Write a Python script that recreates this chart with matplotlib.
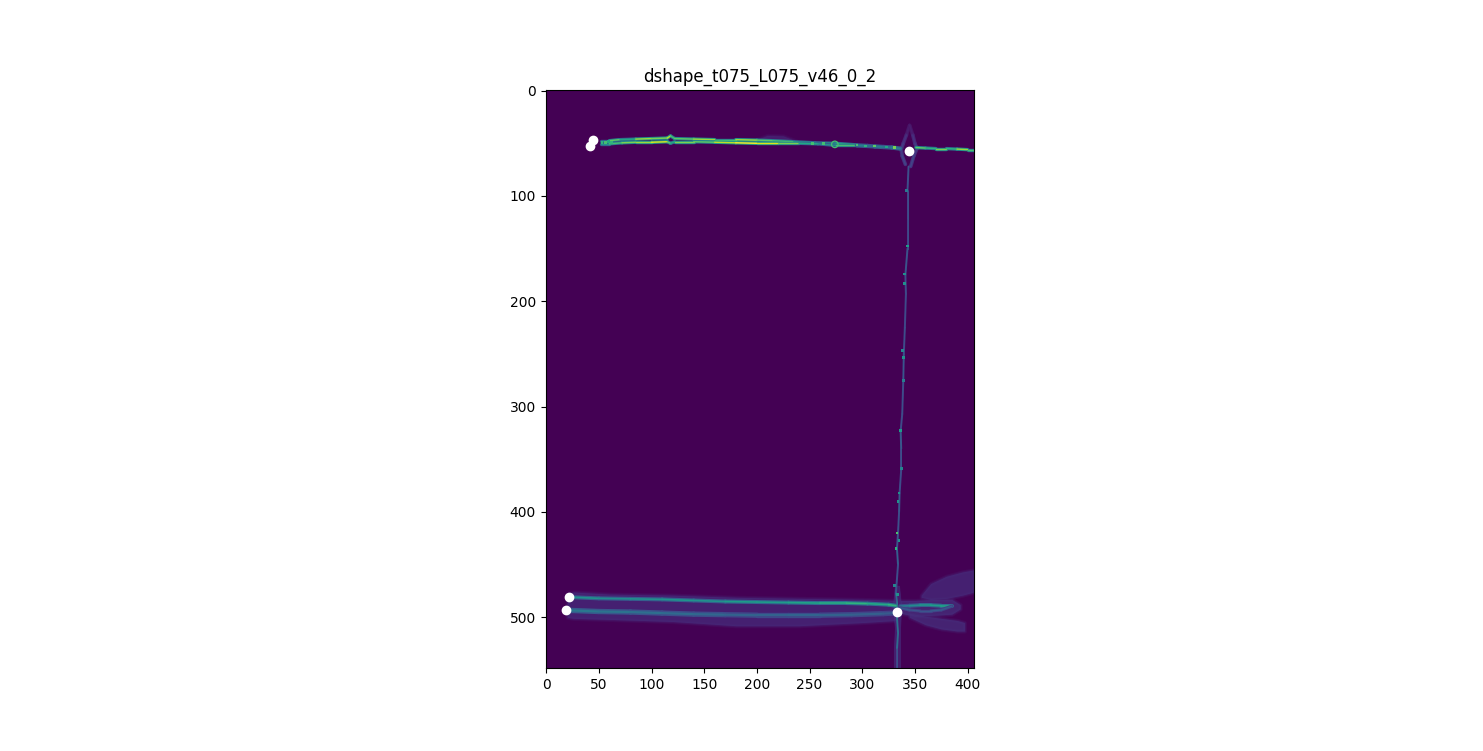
import matplotlib
matplotlib.use('Agg')
import matplotlib.pyplot as plt
from matplotlib.collections import LineCollection
import numpy as np

title = 'dshape_t075_L075_v46_0_2'
n_rows, n_cols = 549, 407

# Detected points
point_x = [44, 42, 344, 22, 19, 333]
point_y = [46.5, 52.5, 57.5, 480.5, 493.5, 494.5]

# Ridges: x, y, intensity (0-1)
top_upper_x = [52, 60, 70, 85, 100, 115, 118, 122, 140, 160, 180, 200, 215, 235, 255, 275, 295]
top_upper_y = [47.5, 47.5, 46.5, 46, 45.5, 45, 43, 45.5, 46, 46.5, 46.5, 47, 47.5, 48.5, 49.5, 50, 51.5]
top_upper_v = [0.5, 0.75, 0.6, 0.85, 0.8, 0.9, 0.7, 0.75, 0.85, 0.7, 0.85, 0.75, 0.7, 0.55, 0.5, 0.6, 0.5]

top_lower_x = [52, 60, 72, 85, 100, 115, 118, 122, 140, 160, 180, 200, 220, 240, 258, 275, 295]
top_lower_y = [50.5, 50.5, 49.5, 49, 49, 48.5, 50, 48.5, 48.5, 49, 49.5, 50, 50, 50, 50.5, 52, 52]
top_lower_v = [0.5, 0.7, 0.8, 0.85, 0.95, 0.75, 0.6, 0.8, 0.75, 0.9, 1.0, 0.95, 0.8, 0.6, 0.5, 0.7, 0.45]

top_mid_x = [295, 305, 312, 320, 328, 336]
top_mid_y = [52, 52.5, 53, 53.5, 54, 55]
top_mid_v = [0.42, 0.36, 0.42, 0.38, 0.42, 0.3]

top_right_x = [351, 360, 370, 380, 390, 400, 406]
top_right_y = [54, 54.5, 55, 55, 55.5, 56, 56]
top_right_v = [0.75, 0.65, 0.8, 0.65, 0.85, 0.7, 0.7]

vert_x = [344, 343, 343, 343, 341, 341.5, 340.5, 339.5, 339, 338, 336.5, 337, 337, 335.5, 335, 334, 333, 334, 332, 333, 333, 334, 333, 333]
vert_y = [72, 95, 123, 150, 175, 193, 225, 250, 275, 307, 323, 340, 360, 382, 400, 420, 435, 450, 477, 485, 500, 515, 530, 548]
vert_v = [0.26, 0.25, 0.24, 0.28, 0.25, 0.24, 0.25, 0.28, 0.25, 0.24, 0.3, 0.25, 0.25, 0.3, 0.26, 0.28, 0.32, 0.26, 0.34, 0.38, 0.4, 0.38, 0.25, 0.22]

bot_upper_x = [26, 50, 80, 110, 140, 170, 200, 230, 260, 285, 305, 325, 332]
bot_upper_y = [481, 482, 482.5, 483, 484, 485, 485.5, 486, 486.5, 486.5, 487, 488, 489]
bot_upper_v = [0.5, 0.48, 0.5, 0.52, 0.5, 0.55, 0.55, 0.58, 0.62, 0.65, 0.6, 0.65, 0.5]

bot_lower_x = [24, 50, 80, 110, 140, 170, 200, 230, 260, 290, 320, 330]
bot_lower_y = [493.5, 494.5, 495, 496, 497, 497.5, 498, 498, 498, 497.5, 496.5, 496]
bot_lower_v = [0.4, 0.38, 0.36, 0.34, 0.33, 0.31, 0.31, 0.32, 0.31, 0.3, 0.28, 0.26]

tail_upper_x = [336, 345, 355, 365, 375, 385]
tail_upper_y = [489.5, 489, 488.5, 488.5, 489, 489]
tail_upper_v = [0.42, 0.48, 0.52, 0.55, 0.58, 0.6]

tail_lower_x = [336, 345, 355, 365, 375, 385]
tail_lower_y = [491, 493, 494, 494, 493, 489.5]
tail_lower_v = [0.28, 0.26, 0.26, 0.28, 0.28, 0.32]

diamond_left_x = [345, 342, 339, 337, 338, 341]
diamond_left_y = [33, 42, 50, 56, 62, 70]
diamond_right_x = [345, 348, 350, 352, 349, 346]
diamond_right_y = [33, 42, 50, 55, 62, 72]
diamond_v = [0.08, 0.14, 0.17, 0.17, 0.2, 0.24]

# Short bright spots on the ridges: x, y, intensity
spot_x = [53, 56, 59, 62, 253, 263, 295, 303, 312, 323, 331, 342, 343, 340, 340, 338, 339.5, 339, 336, 337, 335, 334, 333, 335, 332, 331, 333.5]
spot_y = [49, 49.5, 48.5, 49.5, 50.5, 50, 51.5, 52.5, 52.5, 53.5, 54, 95, 147.5, 174, 183, 247, 253, 275, 323, 359, 382, 390, 420, 427, 435, 470, 478]
spot_v = [0.65, 0.7, 0.6, 0.65, 0.7, 0.7, 0.7, 0.65, 0.75, 0.6, 0.8, 0.4, 0.55, 0.5, 0.5, 0.45, 0.5, 0.42, 0.55, 0.45, 0.5, 0.5, 0.72, 0.5, 0.65, 0.45, 0.5]

ring_x = [274]
ring_y = [51]

# Soft haze around the ridges: x, lower edge, upper edge
haze_top_x = [198, 210, 225, 238]
haze_top_lo = [47, 42.5, 43, 48]
haze_top_hi = [48, 48, 48, 49]

haze_bot_x = [20, 26, 60, 120, 180, 240, 300, 332]
haze_bot_lo = [478, 476, 478, 479, 481, 482, 483, 484]
haze_bot_hi = [500, 501, 502, 504, 508, 508, 505, 503]

haze_fan_top_x = [356, 365, 380, 395, 406]
haze_fan_top_lo = [479, 468, 461, 457, 455]
haze_fan_top_hi = [481, 483, 482, 479, 476]

haze_fan_mid_x = [336, 350, 370, 385, 393]
haze_fan_mid_lo = [484, 484, 483, 483, 488]
haze_fan_mid_hi = [496, 499, 498, 497, 492]

haze_fan_low_x = [345, 360, 375, 390, 397]
haze_fan_low_lo = [496, 499, 501, 503, 505]
haze_fan_low_hi = [500, 507, 511, 513, 513]

haze_vert_y = [470, 490, 510, 530, 548]
haze_vert_lo = [331, 329, 331, 330, 330]
haze_vert_hi = [335, 337, 336, 336, 336]

background = np.zeros((n_rows, n_cols))

fig, ax = plt.subplots(figsize=(14.83, 7.51), dpi=100)
ax.imshow(background, cmap='viridis', vmin=0, vmax=1)
cmap = plt.get_cmap('viridis')


def ridge(xs, ys, vs, lw=1.3, glow=0.5):
    # one coloured piece per pair of points, with a dimmer wide stroke below
    pts = np.column_stack([xs, ys])
    segs = np.stack([pts[:-1], pts[1:]], axis=1)
    vals = np.array(vs[:-1])
    for width, scale in [(lw * 2.4, glow), (lw, 1.0)]:
        lc = LineCollection(segs, cmap='viridis', norm=plt.Normalize(0, 1), linewidths=width, capstyle='round')
        lc.set_array(vals * scale)
        ax.add_collection(lc)


def haze(xs, lo, hi, v):
    # stacked translucent fills so that the edges look soft
    for lw, alpha in [(3, 0.2), (1.5, 0.3), (0, 0.6)]:
        ax.fill_between(xs, lo, hi, color=cmap(v), lw=lw, alpha=alpha)


haze(haze_top_x, haze_top_lo, haze_top_hi, 0.1)
haze(haze_bot_x, haze_bot_lo, haze_bot_hi, 0.12)
haze(haze_fan_top_x, haze_fan_top_lo, haze_fan_top_hi, 0.12)
haze(haze_fan_mid_x, haze_fan_mid_lo, haze_fan_mid_hi, 0.13)
haze(haze_fan_low_x, haze_fan_low_lo, haze_fan_low_hi, 0.13)
ax.fill_betweenx(haze_vert_y, haze_vert_lo, haze_vert_hi, color=cmap(0.14), lw=0.5, alpha=0.6)

ridge(diamond_left_x, diamond_left_y, diamond_v, 1.1, 0.7)
ridge(diamond_right_x, diamond_right_y, diamond_v, 1.1, 0.7)
ridge(vert_x, vert_y, vert_v, 0.6, 0.8)
ridge(top_upper_x, top_upper_y, top_upper_v, 1.0, 0.6)
ridge(top_lower_x, top_lower_y, top_lower_v, 1.0, 0.6)
ridge(top_mid_x, top_mid_y, top_mid_v, 1.3, 0.7)
ridge(top_right_x, top_right_y, top_right_v, 1.0, 0.6)
ridge(bot_upper_x, bot_upper_y, bot_upper_v, 1.2, 0.6)
ridge(bot_lower_x, bot_lower_y, bot_lower_v, 1.6, 0.7)
ridge(tail_upper_x, tail_upper_y, tail_upper_v, 1.2, 0.6)
ridge(tail_lower_x, tail_lower_y, tail_lower_v, 1.0, 0.7)

ax.scatter(spot_x, spot_y, c=spot_v, cmap='viridis', vmin=0, vmax=1, s=4, marker='s', linewidths=0, zorder=3)
ax.scatter(ring_x, ring_y, facecolors='none', edgecolors=cmap(0.7), s=22, linewidths=0.9, zorder=3)
ax.scatter(point_x, point_y, color='white', s=36, zorder=5)
ax.set_xlim(-0.5, n_cols - 0.5)
ax.set_ylim(n_rows - 0.5, -0.5)
ax.set_title(title)

plt.savefig('out.png', dpi=100)
